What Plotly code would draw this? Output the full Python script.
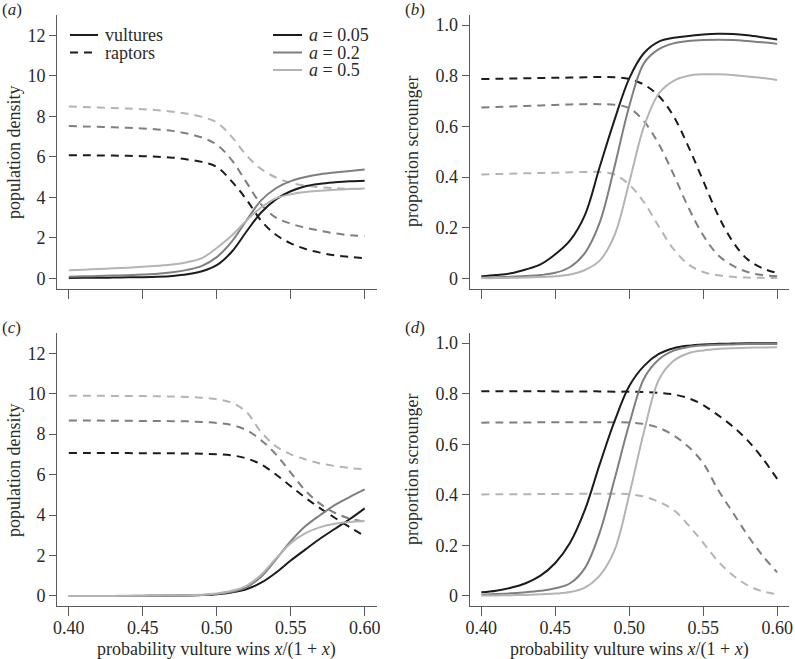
import plotly.graph_objects as go
from plotly.subplots import make_subplots

# probability vulture wins x/(1+x)
xs = [0.40, 0.41, 0.42, 0.43, 0.44, 0.45, 0.46, 0.47, 0.48, 0.49, 0.50,
      0.51, 0.52, 0.53, 0.54, 0.55, 0.56, 0.57, 0.58, 0.59, 0.60]

a_values = ["0.05", "0.2", "0.5"]

# (a) population density
a_vult_005 = [0.02, 0.03, 0.03, 0.04, 0.05, 0.06, 0.08, 0.12, 0.20, 0.35, 0.65,
              1.30, 2.30, 3.25, 3.90, 4.30, 4.55, 4.67, 4.74, 4.79, 4.82]
a_vult_02 = [0.08, 0.10, 0.12, 0.14, 0.16, 0.19, 0.23, 0.30, 0.42, 0.62, 1.05,
             1.80, 2.85, 3.85, 4.45, 4.80, 5.00, 5.14, 5.23, 5.30, 5.37]
a_vult_05 = [0.40, 0.43, 0.46, 0.50, 0.53, 0.57, 0.62, 0.68, 0.80, 1.00, 1.50,
             2.10, 2.85, 3.50, 3.95, 4.15, 4.26, 4.32, 4.37, 4.41, 4.44]
a_rapt_005 = [6.08, 6.08, 6.07, 6.06, 6.05, 6.03, 6.00, 5.96, 5.87, 5.75, 5.50,
              4.80, 3.90, 2.85, 2.15, 1.73, 1.45, 1.27, 1.13, 1.06, 1.00]
a_rapt_02 = [7.52, 7.50, 7.48, 7.46, 7.43, 7.40, 7.35, 7.28, 7.15, 6.95, 6.60,
             5.85, 4.75, 3.65, 3.00, 2.70, 2.50, 2.35, 2.22, 2.13, 2.08]
a_rapt_05 = [8.48, 8.46, 8.44, 8.41, 8.38, 8.35, 8.30, 8.23, 8.13, 7.97, 7.70,
             7.00, 6.08, 5.40, 4.98, 4.72, 4.58, 4.50, 4.45, 4.42, 4.40]

# (b) proportion scrounger
b_vult_005 = [0.008, 0.013, 0.020, 0.035, 0.055, 0.095, 0.150, 0.250, 0.440, 0.625, 0.790,
              0.890, 0.935, 0.950, 0.957, 0.963, 0.966, 0.965, 0.960, 0.952, 0.943]
b_vult_02 = [0.003, 0.004, 0.006, 0.009, 0.013, 0.022, 0.045, 0.100, 0.220, 0.440, 0.680,
             0.850, 0.905, 0.928, 0.937, 0.941, 0.942, 0.941, 0.937, 0.932, 0.926]
b_vult_05 = [0.001, 0.001, 0.002, 0.003, 0.005, 0.008, 0.015, 0.033, 0.070, 0.170, 0.380,
             0.600, 0.730, 0.780, 0.800, 0.806, 0.806, 0.803, 0.797, 0.791, 0.783]
b_rapt_005 = [0.787, 0.788, 0.789, 0.790, 0.791, 0.792, 0.793, 0.794, 0.795, 0.794, 0.787,
              0.765, 0.720, 0.640, 0.520, 0.385, 0.250, 0.145, 0.075, 0.040, 0.021]
b_rapt_02 = [0.675, 0.677, 0.679, 0.681, 0.683, 0.685, 0.687, 0.688, 0.688, 0.686, 0.672,
             0.620, 0.530, 0.410, 0.280, 0.170, 0.092, 0.050, 0.025, 0.013, 0.008]
b_rapt_05 = [0.410, 0.412, 0.413, 0.415, 0.416, 0.417, 0.419, 0.420, 0.420, 0.410, 0.370,
             0.300, 0.205, 0.115, 0.055, 0.025, 0.012, 0.006, 0.003, 0.002, 0.001]

# (c) population density
c_vult_005 = [0.00, 0.00, 0.00, 0.00, 0.00, 0.00, 0.01, 0.01, 0.02, 0.04, 0.08,
              0.17, 0.33, 0.65, 1.15, 1.75, 2.30, 2.84, 3.32, 3.80, 4.33]
c_vult_02 = [0.00, 0.00, 0.00, 0.00, 0.00, 0.01, 0.01, 0.02, 0.03, 0.05, 0.10,
             0.20, 0.42, 0.95, 1.80, 2.70, 3.45, 4.00, 4.50, 4.90, 5.27]
c_vult_05 = [0.00, 0.00, 0.00, 0.00, 0.01, 0.01, 0.02, 0.02, 0.03, 0.06, 0.12,
             0.25, 0.50, 1.05, 1.85, 2.60, 3.10, 3.40, 3.57, 3.65, 3.70]
c_rapt_005 = [7.06, 7.06, 7.06, 7.06, 7.06, 7.05, 7.05, 7.05, 7.04, 7.03, 7.00,
              6.95, 6.80, 6.50, 6.00, 5.42, 4.85, 4.33, 3.85, 3.40, 2.95]
c_rapt_02 = [8.67, 8.67, 8.67, 8.66, 8.66, 8.65, 8.65, 8.64, 8.63, 8.60, 8.55,
             8.45, 8.20, 7.70, 7.00, 6.10, 5.20, 4.55, 4.10, 3.82, 3.68]
c_rapt_05 = [9.90, 9.90, 9.90, 9.89, 9.89, 9.88, 9.87, 9.86, 9.84, 9.80, 9.72,
             9.55, 9.10, 8.10, 7.40, 7.00, 6.75, 6.55, 6.42, 6.32, 6.26]

# (d) proportion scrounger
d_vult_005 = [0.014, 0.020, 0.032, 0.050, 0.080, 0.130, 0.210, 0.340, 0.520, 0.690, 0.830,
              0.910, 0.957, 0.980, 0.990, 0.995, 0.997, 0.998, 0.999, 0.999, 0.999]
d_vult_02 = [0.005, 0.007, 0.010, 0.014, 0.020, 0.030, 0.050, 0.110, 0.250, 0.460, 0.680,
             0.860, 0.935, 0.970, 0.985, 0.991, 0.994, 0.995, 0.996, 0.996, 0.996]
d_vult_05 = [0.002, 0.002, 0.003, 0.004, 0.006, 0.009, 0.015, 0.033, 0.080, 0.180, 0.400,
             0.650, 0.855, 0.930, 0.960, 0.971, 0.977, 0.980, 0.982, 0.983, 0.984]
d_rapt_005 = [0.810, 0.810, 0.810, 0.810, 0.810, 0.809, 0.809, 0.809, 0.809, 0.808, 0.808,
              0.806, 0.803, 0.797, 0.782, 0.755, 0.715, 0.670, 0.615, 0.545, 0.463]
d_rapt_02 = [0.685, 0.686, 0.686, 0.686, 0.687, 0.687, 0.687, 0.687, 0.687, 0.687, 0.686,
             0.680, 0.665, 0.635, 0.590, 0.525, 0.420, 0.330, 0.240, 0.160, 0.093]
d_rapt_05 = [0.401, 0.402, 0.402, 0.402, 0.403, 0.403, 0.403, 0.404, 0.404, 0.404, 0.402,
             0.393, 0.372, 0.340, 0.280, 0.210, 0.137, 0.082, 0.042, 0.018, 0.007]

panels = [
    (1, 1, [a_vult_005, a_vult_02, a_vult_05], [a_rapt_005, a_rapt_02, a_rapt_05]),
    (1, 2, [b_vult_005, b_vult_02, b_vult_05], [b_rapt_005, b_rapt_02, b_rapt_05]),
    (2, 1, [c_vult_005, c_vult_02, c_vult_05], [c_rapt_005, c_rapt_02, c_rapt_05]),
    (2, 2, [d_vult_005, d_vult_02, d_vult_05], [d_rapt_005, d_rapt_02, d_rapt_05]),
]

colors = ["#1c1c1c", "#7f7f7f", "#b4b4b4"]
dash = "8px,6px"
serif = "Liberation Serif"
txt = "#2a2a2a"
axcol = "#5a5a5a"
W, H = 795, 659

fig = make_subplots(rows=2, cols=2)

for row, col, vult, rapt in panels:
    for i in range(3):
        fig.add_trace(go.Scatter(x=xs, y=rapt[i], mode="lines", showlegend=False,
                                 hoverinfo="skip",
                                 line=dict(color=colors[i], width=2, dash=dash,
                                           shape="spline", smoothing=1)),
                      row=row, col=col)
    for i in range(3):
        fig.add_trace(go.Scatter(x=xs, y=vult[i], mode="lines", showlegend=False,
                                 hoverinfo="skip",
                                 line=dict(color=colors[i], width=2,
                                           shape="spline", smoothing=1)),
                      row=row, col=col)

xdom_l = [57 / W, 376.5 / W]
xdom_r = [469.5 / W, 789 / W]
ydom_t = [1 - 288.5 / H, 1 - 15 / H]
ydom_b = [1 - 606 / H, 1 - 333 / H]

xtick = [0.40, 0.45, 0.50, 0.55, 0.60]
xtext = ["0.40", "0.45", "0.50", "0.55", "0.60"]
dens_ticks = [0, 2, 4, 6, 8, 10, 12]
prop_ticks = [0, 0.2, 0.4, 0.6, 0.8, 1.0]
prop_text = ["0", "0.2", "0.4", "0.6", "0.8", "1.0"]

common = dict(showgrid=False, zeroline=False, showline=True, linecolor=axcol, linewidth=1,
              ticks="outside", tickcolor=axcol, tickwidth=1, automargin=False,
              tickfont=dict(family=serif, size=18, color=txt))

for n, (xd, yd, dens, show_x) in enumerate([
        (xdom_l, ydom_t, True, False), (xdom_r, ydom_t, False, False),
        (xdom_l, ydom_b, True, True), (xdom_r, ydom_b, False, True)], start=1):
    sx = "" if n == 1 else str(n)
    fig.layout["xaxis" + sx].update(domain=xd, range=[0.392, 0.608], tickvals=xtick,
                                    ticktext=xtext, showticklabels=show_x, ticklen=9,
                                    ticklabelstandoff=-4, anchor="y" + sx, **common)
    if dens:
        fig.layout["yaxis" + sx].update(domain=yd, range=[-0.5, 13], tickvals=dens_ticks,
                                        ticklen=7, anchor="x" + sx, **common)
    else:
        fig.layout["yaxis" + sx].update(domain=yd, range=[-0.04, 1.04], tickvals=prop_ticks,
                                        ticktext=prop_text, ticklen=7, anchor="x" + sx, **common)

# panel letters
for t, xp, yp in [("(<i>a</i>)", 0, 10), ("(<i>b</i>)", 403, 10),
                  ("(<i>c</i>)", 0, 327), ("(<i>d</i>)", 403, 327)]:
    fig.add_annotation(xref="paper", yref="paper", x=xp / W, y=1 - yp / H, text=t,
                       xanchor="left", yanchor="middle", showarrow=False,
                       font=dict(family=serif, size=17, color=txt))

# axis titles
for xc, yc, t in [(14, 152, "population density"), (412, 152, "proportion scrounger"),
                  (14, 470, "population density"), (412, 470, "proportion scrounger")]:
    fig.add_annotation(xref="paper", yref="paper", x=xc / W, y=1 - yc / H, text=t,
                       textangle=-90, showarrow=False, xanchor="center", yanchor="middle",
                       font=dict(family=serif, size=18, color=txt))

for xc in [216, 629]:
    fig.add_annotation(xref="paper", yref="paper", x=xc / W, y=1 - 649.5 / H,
                       text="probability vulture wins <i>x</i>/(1 + <i>x</i>)",
                       showarrow=False, xanchor="center", yanchor="middle",
                       font=dict(family=serif, size=18, color=txt))

# legend keys in panel (a)
leg_rows = [35, 52.5, 70]
key_items = [
    (70, 98, leg_rows[0], colors[0], None, "vultures"),
    (70, 98, leg_rows[1], colors[0], dash, "raptors"),
]
for i, a in enumerate(a_values):
    key_items.append((273, 302, leg_rows[i], colors[i], None, "<i>a</i> = " + a))
for x0, x1, yr, c, d, label in key_items:
    fig.add_shape(type="line", xref="paper", yref="paper", x0=x0 / W, x1=x1 / W,
                  y0=1 - yr / H, y1=1 - yr / H, line=dict(color=c, width=2, dash=d))
    fig.add_annotation(xref="paper", yref="paper", x=(x1 + 5) / W, y=1 - yr / H, text=label,
                       xanchor="left", yanchor="middle", showarrow=False,
                       font=dict(family=serif, size=18, color=txt))

fig.update_layout(
    width=W, height=H, plot_bgcolor="white", paper_bgcolor="white",
    margin=dict(l=0, r=0, t=0, b=0), showlegend=False, hovermode=False,
)

fig.write_html("out.html", config={"displayModeBar": False},
               post_script="document.body.style.margin='0';")
